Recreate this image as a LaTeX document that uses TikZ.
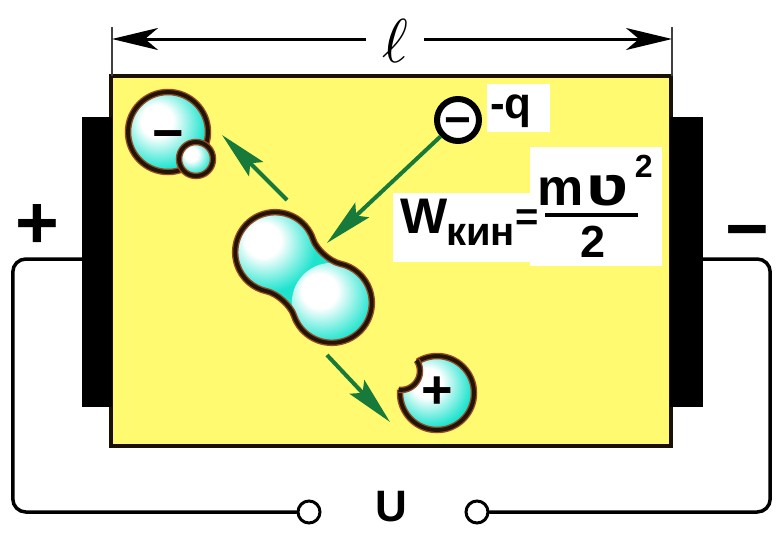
\documentclass[tikz,border=0pt]{standalone}
\usepackage{fontspec}
\setmainfont{Liberation Sans}
\usetikzlibrary{arrows.meta}

\definecolor{cellyellow}{RGB}{255,250,112}
\definecolor{ioncyan}{RGB}{30,228,206}
\definecolor{iondark}{RGB}{34,20,8}
\definecolor{ionhalo}{RGB}{150,74,34}
\definecolor{arrowgreen}{RGB}{24,122,58}

\pgfdeclareradialshading{ionglow}{\pgfpoint{-8bp}{8bp}}{%
  color(0bp)=(white); color(10bp)=(white); color(28bp)=(ioncyan);
  color(44bp)=(ioncyan); color(50bp)=(ioncyan!82!black); color(72bp)=(ioncyan!82!black)}

% outline of a two-lobed molecule, lobes on the local x axis
\newcommand\dumbbellpath{(18,34.64) .. controls (9.3,29.6) and (-9.3,29.6) .. (-18,34.64)
  arc[start angle=60,end angle=300,radius=40]
  .. controls (-9.3,-29.6) and (9.3,-29.6) .. (18,-34.64)
  arc[start angle=240,end angle=480,radius=40] -- cycle}

\tikzset{
  cellbox/.style={draw=iondark!80!black, line width=4pt, fill=cellyellow, inner sep=0pt},
  plate/.style={fill=black, inner sep=0pt},
  wire/.style={line width=3.5pt, line cap=round, rounded corners=13pt},
  terminal/.style={circle, draw, line width=3pt, fill=white, minimum size=22pt, inner sep=0pt},
  tick/.style={line width=1.8pt, black!75},
  dimarrow/.style={line width=3pt, -{Stealth[length=46pt,width=22pt,inset=13pt]}},
  greenarrow/.style={draw=arrowgreen, line width=4pt,
    -{Stealth[length=48pt,width=20pt,inset=8pt,fill=arrowgreen]}},
  ionhalo/.style={draw=ionhalo, line width=6.5pt},
  ionline/.style={draw=iondark, line width=3.8pt},
  bigsign/.style={font=\bfseries\fontsize{75}{80}\selectfont, inner sep=0pt},
  ionsign/.style={font=\bfseries\fontsize{54}{60}\selectfont, inner sep=0pt},
  electron/.style={circle, draw, line width=6pt, fill=white, minimum size=42pt, inner sep=0pt},
  formula/.style={inner sep=0pt, anchor=base west},
  patch/.style={fill=white}
}

\begin{document}
\begin{tikzpicture}[x=1pt,y=1pt]
\useasboundingbox (0,-536) rectangle (778,0);
\fill[white] (0,-536) rectangle (778,0);

% discharge cell with its electrodes
\node[cellbox, minimum width=560pt, minimum height=370pt] (cell) at (391,-261) {};
\node[plate, minimum width=30pt, minimum height=290pt] (plateL) at (97,-262) {};
\node[plate, minimum width=33pt, minimum height=290pt] (plateR) at (686.5,-262) {};

% external circuit
\node[terminal] (tA) at (309,-512) {};
\node[terminal] (tB) at (477,-512) {};
\draw[wire] ([yshift=3pt]plateL.west) -- ++(-69,0) |- (tA.west);
\draw[wire] (tB.east) -| ([xshift=67pt,yshift=3pt]plateR.east) -- ([yshift=3pt]plateR.east);
\node[bigsign] (plus) at (37,-227) {+};
\node[bigsign] (minus) at (747,-240) {−};
\node[font=\bfseries\fontsize{44}{48}\selectfont, inner sep=0pt] (volt) at (391,-507) {U};

% length of the gap
\coordinate (dimL) at (112,-39);
\coordinate (dimR) at (672,-39);
\draw[tick] (112,-76) -- (112,-27);
\draw[tick] (672,-76) -- (672,-27);
\node[inner xsep=16pt, inner ysep=0pt] (ell) at (395,-41) {\scalebox{6.2}{$\ell$}};
\draw[dimarrow] (ell.west |- dimL) -- (dimL);
\draw[dimarrow] (ell.east |- dimR) -- (dimR);

% white label backgrounds
\fill[patch] (487,-84) rectangle (550,-132);
\fill[patch] (393,-193) rectangle (531,-262);
\fill[patch] (530,-147) rectangle (662,-266);

% negative ion with attached electron
\shade[shading=ionglow] (168,-132) circle (40);
\draw[ionhalo] (168,-132) circle (40);
\draw[ionline] (168,-132) circle (40);
\node[ionsign] (negsign) at (168,-141) {−};
\shade[shading=ionglow] (196,-159) circle (17);
\draw[ionhalo] (196,-159) circle (17);
\draw[ionline] (196,-159) circle (17);

% neutral molecule
\begin{scope}[shift={(303.5,-277.5)}, rotate=-41.8]
  \begin{scope}
    \clip \dumbbellpath;
    \fill[ioncyan] (-90,-60) rectangle (90,60);
    \shade[shading=ionglow] (-38,0) circle (40);
    \shade[shading=ionglow] (38,0) circle (40);
  \end{scope}
  \draw[ionhalo] \dumbbellpath;
  \draw[ionline] \dumbbellpath;
\end{scope}

% positive ion with the notch left by the lost electron
\shade[shading=ionglow] (437,-393) circle (37);
\draw[ionhalo] (437,-393) circle (37);
\draw[ionline] (437,-393) circle (37);
\fill[cellyellow] (401,-371) circle (19);
\begin{scope}
  \clip (437,-393) circle (38.6);
  \draw[ionhalo] (401,-371) circle (19);
  \draw[ionline] (401,-371) circle (19);
\end{scope}
\node[ionsign] (possign) at (437,-393) {+};

% incoming electron
\node[electron] (el) at (458,-120) {};
\node[inner sep=0pt, font=\bfseries\fontsize{46}{50}\selectfont] (elsign) at (458,-127) {−};
\node[formula, font=\bfseries\fontsize{44}{48}\selectfont] (charge) at (490,-118) {-q};

% motion arrows
\coordinate (mol) at (327,-243);
\coordinate (negtail) at (287,-200);
\coordinate (negtip) at (222,-135);
\coordinate (postail) at (327,-355);
\coordinate (postip) at (390,-422);
\draw[greenarrow] (el) -- (mol);
\draw[greenarrow] (negtail) -- (negtip);
\draw[greenarrow] (postail) -- (postip);

% kinetic energy formula
\node[formula, font=\bfseries\fontsize{50}{54}\selectfont] (W) at (400,-233) {W};
\node[formula, font=\bfseries\fontsize{40}{44}\selectfont] (kin) at (446,-245) {кин};
\node[inner sep=0pt, font=\bfseries\fontsize{40}{44}\selectfont] (eq) at (527,-220) {=};
\node[formula, font=\bfseries\fontsize{52}{56}\selectfont] (m) at (537,-205) {m};
\node[formula, font=\bfseries\fontsize{56}{60}\selectfont] (v) at (586,-205) {\scalebox{1.3}[1]{ʋ}};
\node[formula, font=\bfseries\fontsize{32}{36}\selectfont] (sq) at ([xshift=6pt,yshift=28pt]v.base east) {2};
\coordinate (barL) at (545,-215);
\coordinate (barR) at (638,-215);
\draw[line width=3.5pt] (barL) -- (barR);
\node[inner sep=0pt, anchor=base, font=\bfseries\fontsize{45}{50}\selectfont] (den) at (593,-257) {2};
\end{tikzpicture}
\end{document}
